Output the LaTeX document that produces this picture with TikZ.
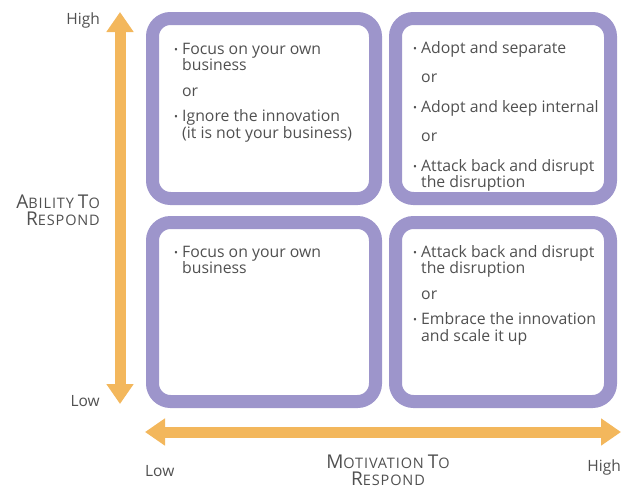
\documentclass[tikz,border=0pt]{standalone}
\usepackage{fontspec}
\setmainfont{Open Sans}
\usetikzlibrary{arrows.meta}
\definecolor{quadpurple}{HTML}{9D95CB}
\definecolor{axisorange}{HTML}{F3B75C}
\definecolor{txtgray}{HTML}{505050}
\newcommand{\bl}{\makebox[8pt][l]{\raisebox{1.2pt}{\fontsize{10.5}{10.5}\selectfont\textbullet}}}
\newcommand{\ind}{\hspace*{8pt}}
\newcommand{\capsc}[2]{{\fontsize{19}{17}\selectfont #1}%
    {\fontsize{14.5}{17}\addfontfeatures{LetterSpace=6}\selectfont #2}}

\begin{document}
\begin{tikzpicture}[x=1pt, y=-1pt,
    quad/.style={draw=quadpurple, line width=13pt, rounded corners=18pt},
    axis/.style={draw=axisorange, line width=11pt,
        {Triangle[width=26pt,length=20pt]}-{Triangle[width=26pt,length=20pt]}},
    txt/.style={anchor=north west, inner sep=0pt, align=left, text=txtgray,
        font=\fontsize{15.8}{16.5}\selectfont},
    lbl/.style={inner sep=0pt, text=txtgray, font=\fontsize{15.5}{17}\selectfont}]
    \useasboundingbox (0,0) rectangle (623,491);

    % the four quadrants
    \draw[quad] (152.5,18.5) rectangle (375.5,198.5);
    \draw[quad] (395.5,18.5) rectangle (610.5,198.5);
    \draw[quad] (152.5,222.5) rectangle (375.5,401.5);
    \draw[quad] (395.5,222.5) rectangle (610.5,401.5);

    \node[txt] (lowhigh) at (174,43) {\bl Focus on your own\\ \ind business\\[9pt]
        \ind or\\[9pt] \bl Ignore the innovation\\ \ind (it is not your business)};
    \node[txt] (highhigh) at (413,41) {\bl Adopt and separate\\[13pt] \ind or\\[13pt]
        \bl Adopt and keep internal\\[13pt] \ind or\\[13pt]
        \bl Attack back and disrupt\\ \ind the disruption};
    \node[txt] (lowlow) at (174,246) {\bl Focus on your own\\ \ind business};
    \node[txt] (highlow) at (413,245) {\bl Attack back and disrupt\\ \ind the disruption\\[9pt]
        \ind or\\[9pt] \bl Embrace the innovation\\ \ind and scale it up};

    % axes
    \coordinate (ybot) at (120,404);
    \coordinate (ytop) at (120,12);
    \coordinate (xleft) at (145,432);
    \coordinate (xright) at (621,432);
    \draw[axis] (ybot) -- (ytop);
    \draw[axis] (xleft) -- (xright);

    \node[lbl, anchor=east] (yhigh) at (100,20) {High};
    \node[lbl, anchor=east, align=right] (ylabel) at (100,210)
        {\capsc{A}{BILITY} \capsc{T}{O}\\\capsc{R}{ESPOND}};
    \node[lbl, anchor=east] (ylow) at (100,401) {Low};
    \node[lbl, anchor=west] (xlow) at (145,471) {Low};
    \node[lbl, align=center] (xlabel) at (388,470)
        {\capsc{M}{OTIVATION} \capsc{T}{O}\\\capsc{R}{ESPOND}};
    \node[lbl, anchor=east] (xhigh) at (621,467) {High};
\end{tikzpicture}
\end{document}
